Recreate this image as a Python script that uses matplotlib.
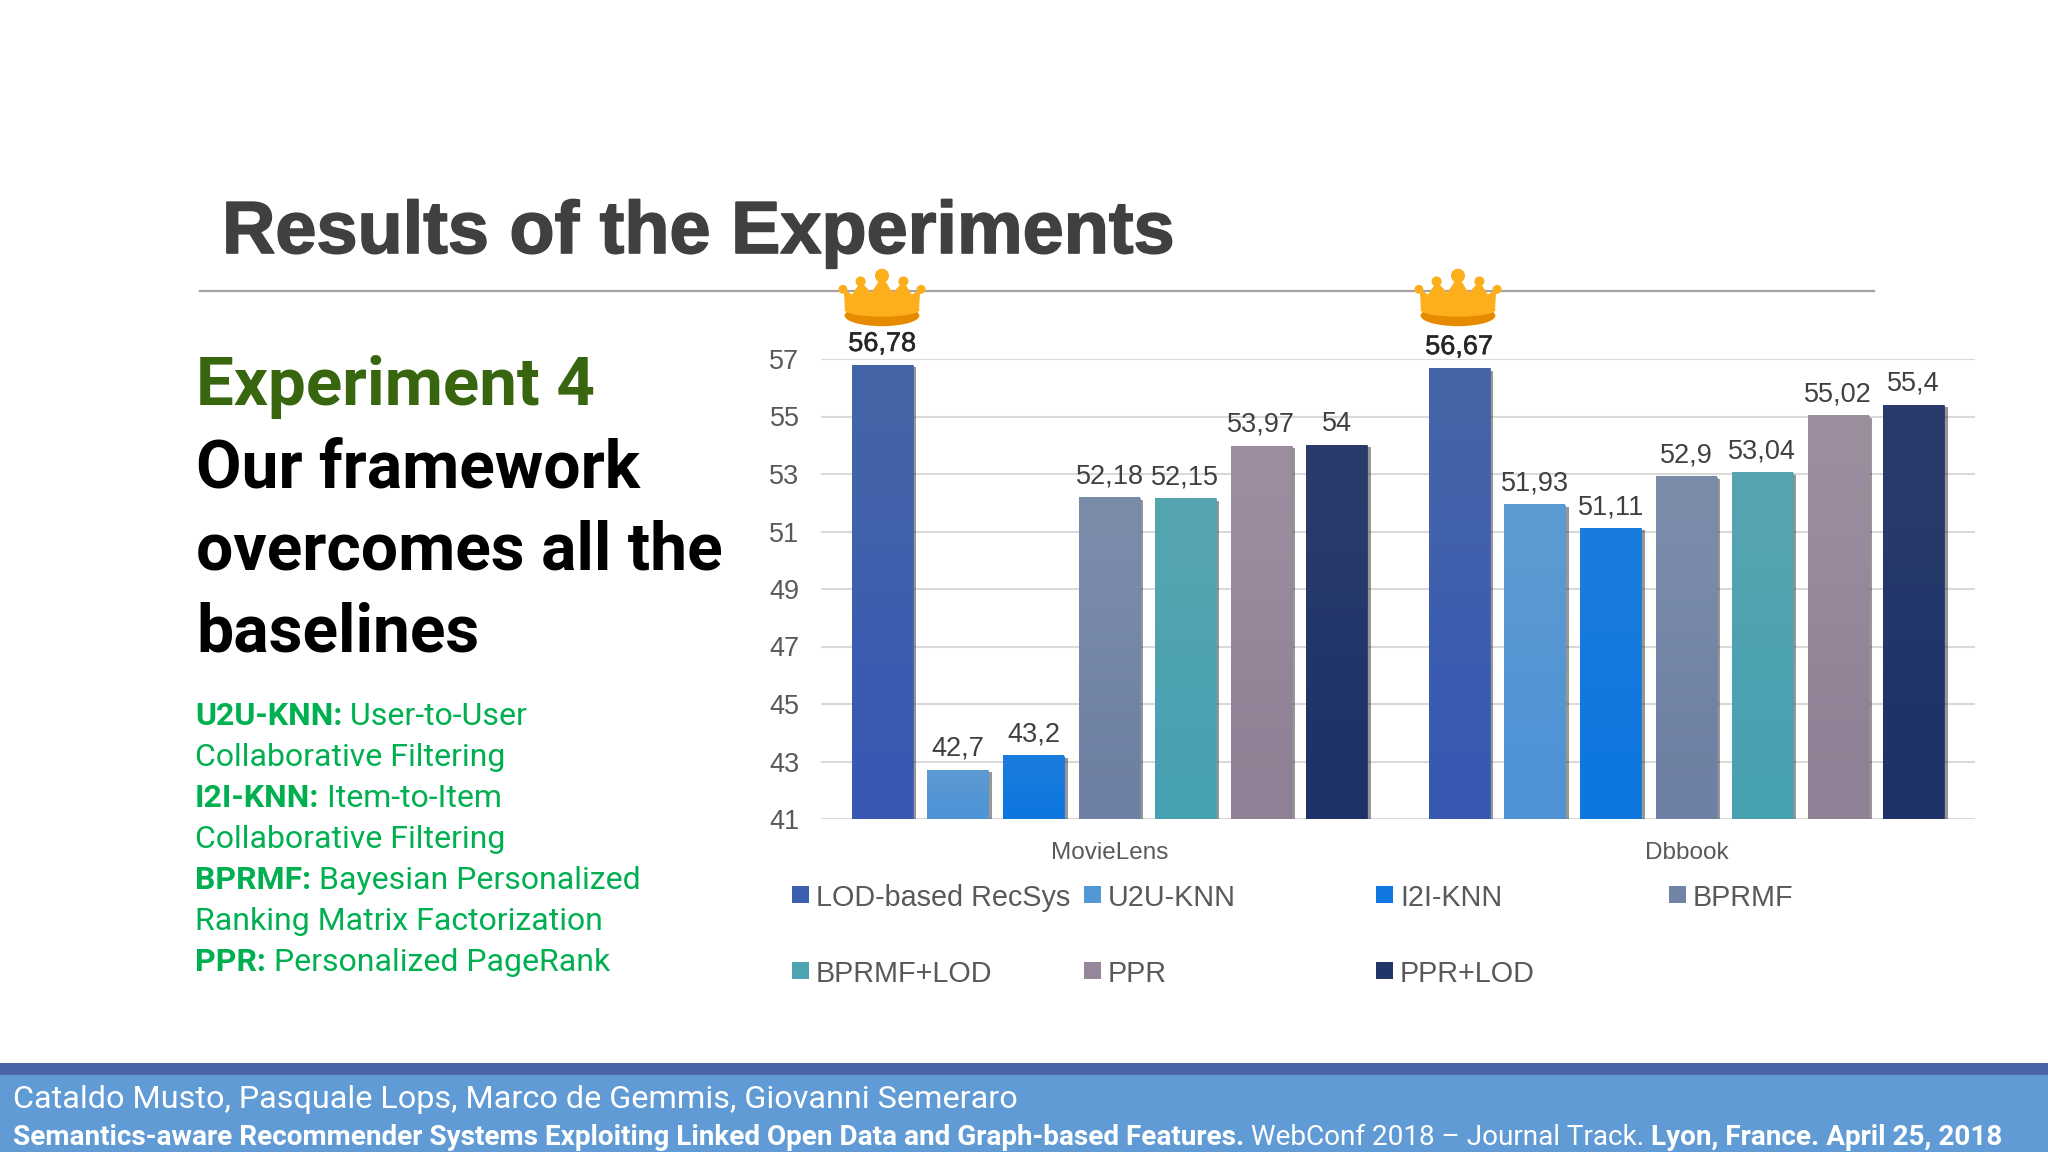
# -*- coding: utf-8 -*-
"""
Results slide, bar chart of experiment 4
"""
import matplotlib
matplotlib.use('Agg')
import matplotlib.pyplot as plt
import matplotlib.patheffects as pe
from matplotlib.colors import LinearSegmentedColormap
from matplotlib.patches import Rectangle, Polygon, Circle, Ellipse

datasets = ['MovieLens', 'Dbbook']
methods = ['LOD-based RecSys', 'U2U-KNN', 'I2I-KNN', 'BPRMF', 'BPRMF+LOD', 'PPR', 'PPR+LOD']
movielens = [56.78, 42.7, 43.2, 52.18, 52.15, 53.97, 54]
dbbook = [56.67, 51.93, 51.11, 52.9, 53.04, 55.02, 55.4]
colors = ['#3d5fb0', '#5297d6', '#1078e0', '#7184a6', '#4da3b2', '#96869b', '#223568']
colors_top = ['#4565a8', '#5c9ad2', '#1a7ddc', '#7b8cab', '#55a5b0', '#9c8d9f', '#2a3c6c']
colors_bottom = ['#3759b3', '#4d93d6', '#0d76e0', '#6e80a3', '#47a0b2', '#8f8095', '#1e3268']
yticks = [41, 43, 45, 47, 49, 51, 53, 55, 57]

headline = ['Our framework', 'overcomes all the', 'baselines']
glossary = [[('U2U-KNN:', True), (' User-to-User', False)],
            [('Collaborative Filtering', False)],
            [('I2I-KNN:', True), (' Item-to-Item', False)],
            [('Collaborative Filtering', False)],
            [('BPRMF:', True), (' Bayesian Personalized', False)],
            [('Ranking Matrix Factorization', False)],
            [('PPR:', True), (' Personalized PageRank', False)]]
footer = [('Semantics-aware Recommender Systems Exploiting Linked Open Data and Graph-based Features.', True),
          (' WebConf 2018 \u2013 Journal Track.', False),
          (' Lyon, France. April 25, 2018', True)]

W, H = 2048, 1152
fig = plt.figure(figsize=(W/100., H/100.), dpi=100, facecolor='white')

# slide background, axes in pixels with y going down
bg = fig.add_axes([0, 0, 1, 1], zorder=0)
bg.set_xlim(0, W)
bg.set_ylim(H, 0)
bg.axis('off')
renderer = fig.canvas.get_renderer()


def runs(x, y, parts, size, color, family='Roboto'):
    # mixed bold/regular text on one baseline
    for s, bold in parts:
        t = bg.text(x, y, s, fontsize=size, color=color, family=family,
                    fontweight='bold' if bold else 'normal', va='baseline', ha='left')
        x = t.get_window_extent(renderer).x1


bg.text(222, 253, 'Results of the Experiments', fontsize=53.2, fontweight='bold', color='#404040',
        family='Liberation Sans', va='baseline', ha='left',
        path_effects=[pe.withStroke(linewidth=1.2, foreground='#404040')])
bg.plot([200, 1874], [291, 291], color='#a3a3a3', lw=1.6)

bg.text(196, 405, 'Experiment 4', fontsize=48.4, fontweight='bold', color='#38660f',
        family='Roboto', va='baseline')
for i, line in enumerate(headline):
    bg.text(196, 487 + i*82, line, fontsize=47.5, fontweight='bold', color='black',
            family='Roboto', va='baseline')
for i, parts in enumerate(glossary):
    runs(195, 725 + i*41, parts, 23.0, '#00b050')

# footer
bg.add_patch(Rectangle((0, 1063), W, 12, color='#4a66a8', lw=0))
bg.add_patch(Rectangle((0, 1075), W, 77, color='#619bd5', lw=0))
bg.text(13, 1108, 'Cataldo Musto, Pasquale Lops, Marco de Gemmis, Giovanni Semeraro',
        fontsize=23.35, color='white', family='Roboto', va='baseline')
runs(13, 1145, footer, 20.1, 'white')

# chart
ax = fig.add_axes([821./W, (H-819.)/H, 1154./W, 460./H], zorder=1)
ax.patch.set_alpha(0)
step = 0.1313
for i, name in enumerate(methods):
    vals = [movielens[i], dbbook[i]]
    xs = [g + (i-3)*step for g in range(len(datasets))]
    bars = ax.bar(xs, vals, width=0.1057, color=colors[i], edgecolor=colors[i], lw=0.5, zorder=3,
                  path_effects=[pe.SimplePatchShadow(offset=(2.5, -1.5), alpha=0.5, shadow_rgbFace='#303030'),
                                pe.Normal()])
    # soft top to bottom shading on each bar
    cmap = LinearSegmentedColormap.from_list('bar%d' % i, [colors_top[i], colors_bottom[i]])
    for b in bars:
        ax.imshow([[0.], [1.]], cmap=cmap, aspect='auto', interpolation='bicubic', zorder=3.5,
                  extent=(b.get_x(), b.get_x()+b.get_width(), 41, b.get_height()))
    labels = [str(v).replace('.', ',') for v in vals]
    bar_txt = ax.bar_label(bars, labels=labels, padding=6, fontsize=19.5, color='#404040',
                           family='Liberation Sans', zorder=4)
    if i == 0:
        for t in bar_txt:
            t.set_color('#262626')
            t.set_path_effects([pe.withStroke(linewidth=0.4, foreground='#262626')])

ax.set_xlim(-0.5, 1.5)
ax.set_ylim(41, 57)
ax.set_yticks(yticks)
ax.set_xticks(range(len(datasets)))
ax.set_xticklabels(datasets, fontsize=17.5, color='#595959', family='Liberation Sans')
ax.tick_params(axis='both', length=0)
ax.tick_params(axis='x', pad=16.5)
ax.tick_params(axis='y', pad=15.5, labelsize=19.5, labelcolor='#595959')
for t in ax.get_yticklabels():
    t.set_family('Liberation Sans')
ax.grid(axis='y', color='#d9d9d9', lw=1.5, zorder=0)
for s in ax.spines.values():
    s.set_visible(False)

# legend, laid out by hand: the columns are fixed width and fill row by row
col_x = [792, 1084, 1376, 1669]
row_y = [895, 971]
for i, name in enumerate(methods):
    x = col_x[i % 4]
    y = row_y[i // 4]
    bg.add_patch(Rectangle((x, y-9), 17, 17, color=colors[i], lw=0))
    bg.text(x+24, y, name, fontsize=20.7, color='#595959', family='Liberation Sans', va='center_baseline')


# crowns above the two winning bars
def crown(cx, top, scale=1.0):
    w = 42*scale
    h = 57*scale
    orange = '#fdae1b'
    dark = '#e68a00'
    body = [(-0.88, 0.72), (-0.91, 0.34), (-0.71, 0.43), (-0.51, 0.20), (-0.25, 0.40), (0.0, 0.10),
            (0.25, 0.40), (0.51, 0.20), (0.71, 0.43), (0.91, 0.34), (0.88, 0.72)]
    bg.add_patch(Ellipse((cx, top + 0.80*h), 1.78*w, 0.37*h, color=dark, lw=0, zorder=5))
    bg.add_patch(Ellipse((cx, top + 0.70*h), 1.78*w, 0.24*h, color=orange, lw=0, zorder=6))
    bg.add_patch(Polygon([(cx + a*w, top + b*h) for a, b in body], closed=True, color=orange, lw=0, zorder=6))
    for a, b, r in [(-0.93, 0.34, 4.5), (-0.51, 0.20, 5), (0.0, 0.10, 7), (0.51, 0.20, 5), (0.93, 0.34, 4.5)]:
        bg.add_patch(Circle((cx + a*w, top + b*h), r*scale, color=orange, lw=0, zorder=6))


crown(882, 270)
crown(1458, 270)

fig.savefig('out.png', dpi=100)
